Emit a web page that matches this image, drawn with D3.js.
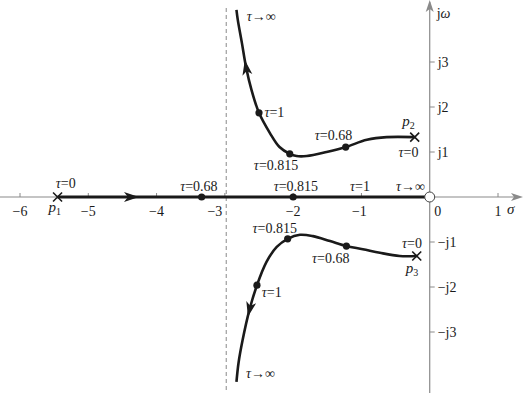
<!DOCTYPE html>
<html><head><meta charset="utf-8">
<script src="https://cdn.jsdelivr.net/npm/d3@7"></script>
</head><body style="margin:0;padding:0;background:#fff">
<svg id="c" width="525" height="393" style="display:block;font-family:'Liberation Serif'" font-family="Liberation Serif"></svg>
<script>
// ---- data (sigma, omega) ----
const xTicks = [-6, -5, -4, -3, -2, -1, 0, 1];
const xTickLabels = ["\u22126", "\u22125", "\u22124", "\u22123", "\u22122", "\u22121", "0", "1"];
const yTicks = [3, 2, 1, -1, -2, -3];
const yTickLabels = ["j3", "j2", "j1", "\u2212j1", "\u2212j2", "\u2212j3"];
const asymptote = -2.98;

const upperBranch = [[-0.22,1.33],[-0.63,1.33],[-0.92,1.27],[-1.23,1.11],[-1.51,1.00],[-1.80,0.91],[-1.95,0.91],[-2.05,0.96],[-2.20,1.11],[-2.34,1.42],[-2.50,1.87],[-2.61,2.38],[-2.69,2.89],[-2.75,3.42],[-2.81,3.93],[-2.83,4.16]];
const lowerBranch = [[-0.19,-1.31],[-0.44,-1.31],[-0.73,-1.24],[-0.98,-1.16],[-1.22,-1.09],[-1.46,-0.98],[-1.71,-0.87],[-1.90,-0.84],[-2.08,-0.93],[-2.24,-1.11],[-2.39,-1.44],[-2.53,-1.96],[-2.64,-2.51],[-2.74,-3.18],[-2.80,-3.69],[-2.83,-4.11]];
const realBranch = [[-5.45,0],[0,0]];

const poles = [[-5.45,0],[-0.22,1.33],[-0.19,-1.31]];
const tauDots = [[-2.50,1.87],[-2.05,0.96],[-1.23,1.11],[-2.08,-0.93],[-1.22,-1.09],[-2.53,-1.96],[-3.34,0],[-2.00,0]];
const zeroMark = [0,0];
// arrows: position and direction target
const arrows = [[[-4.36,0],[-4.0,0]],[[-2.69,2.89],[-2.75,3.42]],[[-2.64,-2.51],[-2.74,-3.18]]];

// labels: [value, sigma, omega, anchor]
const tauLabels = [
  ["0",-5.33,0.2,"middle"],["0.68",-3.38,0.13,"middle"],["0.815",-1.96,0.13,"middle"],["1",-1.02,0.13,"middle"],["\u2192\u221e",-0.28,0.13,"middle"],
  ["\u2192\u221e",-2.68,3.91,"start"],["1",-2.42,1.78,"start"],["0.815",-2.25,0.6,"middle"],["0.68",-1.41,1.27,"middle"],["0",-0.31,0.89,"middle"],
  ["0.815",-2.27,-0.8,"middle"],["0.68",-1.45,-1.47,"middle"],["0",-0.26,-1.13,"middle"],["1",-2.46,-2.22,"start"],["\u2192\u221e",-2.69,-4.02,"start"]
];
const poleLabels = [["1",-5.49,-0.33],["2",-0.31,1.58],["3",-0.26,-1.69]];

// ---- scales ----
const x = d3.scaleLinear().domain([-6, 1]).range([20, 498]);
const y = d3.scaleLinear().domain([0, 3]).range([197, 62]);
const svg = d3.select("#c");
const axisCol = "#8a8a8a";
const ink = "#1a1a1a";
const txt = (sel) => sel.style("font-family", '"Liberation Serif", serif').attr("fill", ink);

// asymptote
svg.append("line").attr("x1", x(asymptote)).attr("x2", x(asymptote)).attr("y1", 8).attr("y2", 393)
  .attr("stroke", axisCol).attr("stroke-width", 1).attr("stroke-dasharray", "4,3");

// axes
svg.append("line").attr("x1", 0).attr("x2", 519).attr("y1", y(0)).attr("y2", y(0)).attr("stroke", axisCol).attr("stroke-width", 1.2);
svg.append("line").attr("x1", x(0)).attr("x2", x(0)).attr("y1", 393).attr("y2", 2).attr("stroke", axisCol).attr("stroke-width", 1.2);
svg.append("path").attr("d", `M523,${y(0)} L511,${y(0)-4} L514,${y(0)} L511,${y(0)+4}Z`).attr("fill", axisCol);
svg.append("path").attr("d", `M${x(0)},0 L${x(0)-4},12 L${x(0)},9 L${x(0)+4},12Z`).attr("fill", axisCol);

// x ticks
svg.selectAll(".xt").data(xTicks.filter(d => d !== 0)).enter().append("line")
  .attr("x1", d => x(d)).attr("x2", d => x(d)).attr("y1", y(0)).attr("y2", y(0) - 4)
  .attr("stroke", axisCol).attr("stroke-width", 1);
txt(svg.selectAll(".xl").data(xTicks).enter().append("text")
  .attr("x", d => x(d) + (d === 0 ? 8 : d === -3 ? -10 : d === -1 ? -2 : 0)).attr("y", y(0) + 19)
  .attr("text-anchor", "middle").attr("font-size", 14)
  .text((d, i) => xTickLabels[i]));
// y ticks
svg.selectAll(".yt").data(yTicks).enter().append("line")
  .attr("x1", x(0)).attr("x2", x(0) + 5).attr("y1", d => y(d)).attr("y2", d => y(d))
  .attr("stroke", axisCol).attr("stroke-width", 1);
txt(svg.selectAll(".yl").data(yTicks).enter().append("text")
  .attr("x", x(0) + 8).attr("y", d => y(d) + 5)
  .attr("font-size", 14)
  .text((d, i) => yTickLabels[i]));
// axis names
txt(svg.append("text").attr("x", x(0) + 7).attr("y", 18).attr("font-size", 14))
  .text("j").append("tspan").attr("font-style", "italic").text("\u03c9");
txt(svg.append("text").attr("x", 507).attr("y", y(0) + 17).attr("font-size", 15).attr("font-style", "italic")).text("\u03c3");

// loci
const line = d3.line().x(d => x(d[0])).y(d => y(d[1])).curve(d3.curveCatmullRom.alpha(0.5));
svg.append("path").attr("d", d3.line().x(d => x(d[0])).y(d => y(d[1]))(realBranch)).attr("stroke", ink).attr("stroke-width", 3.2).attr("fill", "none");
[upperBranch, lowerBranch].forEach(b => {
  svg.append("path").attr("d", line(b)).attr("stroke", ink).attr("stroke-width", 2.6).attr("fill", "none");
});

// arrows
arrows.forEach(([p, q]) => {
  const px = x(p[0]), py = y(p[1]);
  const ang = Math.atan2(y(q[1]) - py, x(q[0]) - px) * 180 / Math.PI;
  svg.append("path").attr("d", "M7,0 L-8,-5 L-4,0 L-8,5Z").attr("fill", ink)
    .attr("transform", `translate(${px},${py}) rotate(${ang})`);
});

// dots
svg.selectAll(".dot").data(tauDots).enter().append("circle")
  .attr("cx", d => x(d[0])).attr("cy", d => y(d[1])).attr("r", 3.6).attr("fill", ink);
// poles
svg.selectAll(".pole").data(poles).enter().append("path")
  .attr("d", d => { const cx = x(d[0]), cy = y(d[1]), s = 4.5; return `M${cx-s},${cy-s}L${cx+s},${cy+s}M${cx-s},${cy+s}L${cx+s},${cy-s}`; })
  .attr("stroke", ink).attr("stroke-width", 1.6);
// open zero
svg.append("circle").attr("cx", x(zeroMark[0])).attr("cy", y(zeroMark[1])).attr("r", 5)
  .attr("fill", "#fff").attr("stroke", "#444").attr("stroke-width", 1);

// labels
tauLabels.forEach(([t, s, w, a]) => {
  const tx = txt(svg.append("text").attr("x", x(s)).attr("y", y(w)).attr("text-anchor", a)
    .attr("font-size", 14));
  tx.append("tspan").attr("font-style", "italic").text("\u03c4");
  tx.append("tspan").text(t.startsWith("\u2192") ? t : "=" + t);
});
poleLabels.forEach(([n, s, w]) => {
  const tx = txt(svg.append("text").attr("x", x(s)).attr("y", y(w)).attr("text-anchor", "middle")
    .attr("font-size", 15));
  tx.append("tspan").attr("font-style", "italic").text("p");
  tx.append("tspan").attr("font-size", 10).attr("dy", 3).text(n);
});
</script>
</body></html>
